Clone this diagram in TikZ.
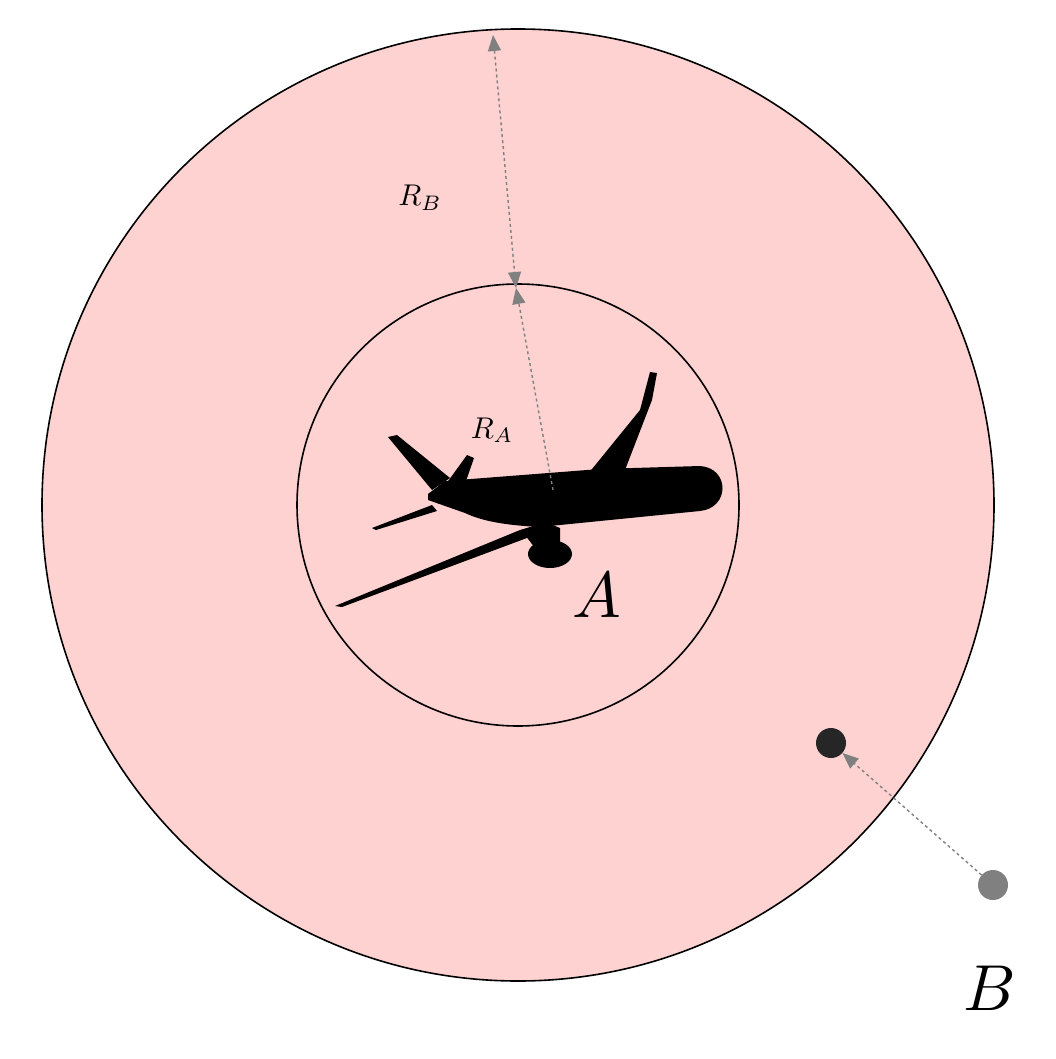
\documentclass[tikz,border=0pt]{standalone}
\usetikzlibrary{arrows.meta}
\definecolor{zone}{RGB}{255,210,210}
\tikzset{
  ring/.style={draw=black,line width=1.6pt,fill=zone},
  dimline/.style={draw=gray,dashed,line width=1.4pt,-{Triangle[length=16pt,width=13pt]}},
  lbl/.style={inner sep=0pt},
  plane/.style={fill=black,draw=none}
}
\begin{document}
\begin{tikzpicture}[x=1pt,y=-1pt]
\useasboundingbox (0,0) rectangle (1055,1059);
\node[ring,circle,minimum size=952pt,inner sep=0pt] (outer) at (518,505) {};
\node[ring,circle,minimum size=442pt,inner sep=0pt] (inner) at (518,505) {};
% airplane
\fill[plane] (428,494) -- (445,481) -- (600,469) -- (700,466) .. controls (730,468) and (730,508) .. (700,511) -- (600,521) -- (540,527) .. controls (500,525) and (480,520) .. (465,513) -- (428,500) -- cycle;
\fill[plane] (588,474) -- (640,410) -- (650,372) -- (657,373) -- (652,400) -- (625,470) -- cycle;
\fill[plane] (388,437) -- (397,435) -- (450,478) -- (432,490) -- cycle;
\fill[plane] (446,484) -- (467,455) -- (474,458) -- (465,484) -- cycle;
\fill[plane] (372,528) -- (432,505) -- (437,511) -- (376,530) -- cycle;
\fill[plane] (335,606) -- (520,530) -- (540,524) -- (535,535) -- (342,607) -- cycle;
\fill[plane] (550,554) ellipse [x radius=22pt,y radius=14pt];
\fill[plane] (525,535) -- (545,522) -- (560,528) -- (560,545) -- (535,548) -- cycle;
% points
\node[circle,fill=black!85,minimum size=30pt,inner sep=0pt] (b1) at (831,743) {};
\node[circle,fill=gray,minimum size=30pt,inner sep=0pt] (b0) at (993,885) {};
\coordinate (c) at (553,490);
\coordinate (top) at (493,35);
\coordinate (mid) at (516,288);
\draw[dimline] (c) -- (mid);
\draw[dimline,{Triangle[length=16pt,width=13pt]}-{Triangle[length=16pt,width=13pt]}] (top) -- (mid);
\draw[dimline] (b0) -- (b1);
\node[lbl] (rb) at (420,198) {\scalebox{3}{$R_B$}};
\node[lbl] (ra) at (492,430) {\scalebox{3}{$R_A$}};
\node[lbl] (a) at (597,595) {\scalebox{6.5}{$A$}};
\node[lbl] (b) at (990,988) {\scalebox{6.5}{$B$}};
\end{tikzpicture}
\end{document}
